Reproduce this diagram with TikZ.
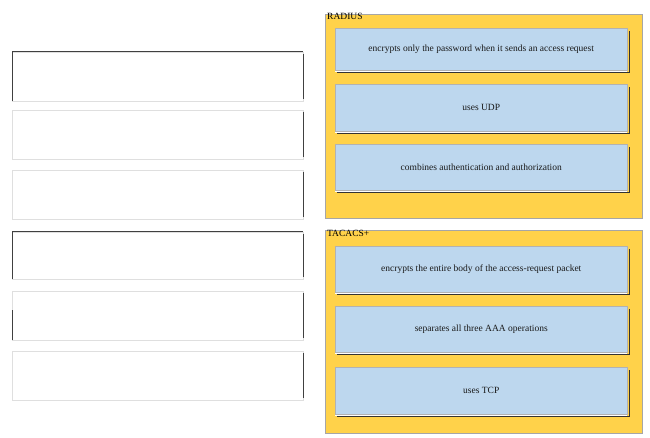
\documentclass[tikz,border=0pt]{standalone}
\usepackage{fontspec}
\setmainfont{Liberation Serif}
\definecolor{pan}{HTML}{FFD24A}
\definecolor{bx}{HTML}{BDD7EE}
\begin{document}
\begin{tikzpicture}[x=1pt,y=-1pt,
 panel/.style={draw=gray!70,fill=pan,line width=0.8pt},
 item/.style={draw=gray!60,fill=bx,line width=0.5pt,font=\fontsize{9.5}{11}\selectfont,text=black!90},
 slot/.style={draw=gray!25,fill=white,line width=0.5pt}]
\useasboundingbox (0,0) rectangle (650,438);
\fill[white] (0,0) rectangle (650,438);
% left slots
\foreach \a/\b [count=\i] in {52/101,110/159,170/219,232/279,291/340,351/400}{
  \draw[slot] (12,\a) rectangle (303,\b);
  \draw[black!75,line width=1pt] (303,\a+2) -- (303,\b-2);
}
\draw[black!75,line width=1pt] (12,101) |- (303,52);
\draw[black!75,line width=1pt] (12,279) |- (303,232);
\draw[black!75,line width=1pt] (12,340) -- (12,310);
% panels
\draw[panel] (325,14) rectangle (642,218);
\node[anchor=north west,inner sep=1pt,font=\fontsize{9.5}{11}\selectfont] (rl) at (326,12) {RADIUS};
\draw[panel] (325,230) rectangle (642,433);
\node[anchor=north west,inner sep=1pt,font=\fontsize{9.5}{11}\selectfont] (tl) at (326,229) {TACACS+};
\foreach \a/\b/\t [count=\i] in {
 28/70/{encrypts only the password when it sends an access request},
 84/131/{uses UDP},
 144/190/{combines authentication and authorization},
 246/292/{encrypts the entire body of the access-request packet},
 306/352/{separates all three AAA operations},
 367/414/{uses TCP}}{
  \draw[black!80,line width=0.8pt] (337,\b+2) -- (629,\b+2) -- (629,\a+3);
  \draw[white,line width=0.8pt] (335,\b+1) -- (627,\b+1);
  \node[item,minimum width=292pt,minimum height=\b-\a,anchor=north west,inner sep=0pt] (b\i) at (335,\a) {\t};
}
\end{tikzpicture}
\end{document}
